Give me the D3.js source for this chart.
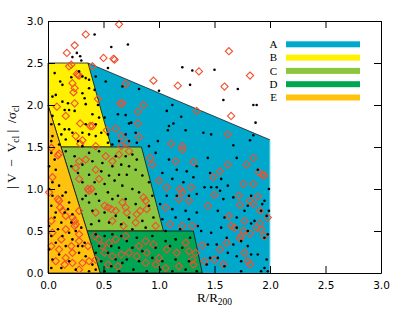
<!DOCTYPE html>
<html>
<head>
<meta charset="utf-8">
<script src="https://cdn.jsdelivr.net/npm/d3@7"></script>
<style>
  body { margin: 0; background: #fff; }
  svg text { font-family: "DejaVu Sans", sans-serif; fill: #000; }
  .serif { font-family: "Liberation Serif", serif; }
</style>
</head>
<body>
<svg id="chart" width="415" height="312"></svg>
<script>
// regions (R/R200, |V-Vcl|/sigma)
const regionNames = ["A", "B", "C", "D", "E"];
const regionColors = ["#00a9cc", "#fff100", "#8cc63f", "#00a651", "#ffc20e"];
const regionShapes = [
  [[0.36, 2.5], [2.0, 1.585], [2.0, 0], [0, 0], [0, 2.5]],
  [[0, 2.5], [0.36, 2.5], [0.57, 1.5], [0.117, 1.5], [0, 2.0]],
  [[0.117, 1.5], [0.842, 1.5], [1.04, 0.5], [0.352, 0.5]],
  [[0.352, 0.5], [1.31, 0.5], [1.39, 0], [0.47, 0]],
  [[0, 2.0], [0.47, 0], [0, 0]]
];

// black dots
const dotPoints = [
  [0.42,2.84],[0.26,2.62],[0.22,2.57],[0.30,2.53],[0.54,2.44],[0.57,2.69],[0.72,2.72],[0.29,2.58],
  [0.52,2.28],[0.67,2.22],
  [0.06,2.38],[0.11,2.28],[0.13,2.24],[0.21,2.33],[0.28,2.40],[0.31,2.34],[0.34,2.32],[0.37,2.30],[0.43,2.34],
  [0.04,2.10],[0.07,2.12],[0.13,2.04],[0.18,2.02],[0.31,2.14],[0.33,2.08],[0.37,2.20],[0.42,2.18],[0.45,2.00],
  [0.15,1.94],[0.19,1.94],[0.24,1.93],[0.34,2.01],[0.40,1.89],[0.46,1.85],[0.51,1.85],[0.04,1.87],
  [0.03,1.77],[0.10,1.77],[0.15,1.71],[0.12,1.65],[0.19,1.71],[0.22,1.67],[0.34,1.77],[0.43,1.77],
  [0.48,1.67],[0.31,1.67],[0.37,1.65],[0.04,1.63],[0.16,1.59],[0.27,1.57],[0.43,1.63],[0.54,1.65],
  [0.54,1.55],[0.10,1.53],[0.31,1.51],[0.58,1.53],[0.03,1.57],[0.63,1.89],[0.64,1.57],
  [1.21,2.45],[1.30,2.41],[1.28,2.24],[1.00,2.17],[0.82,2.19],[1.12,2.00],[1.07,1.93],[1.20,1.86],
  [0.70,1.88],[0.73,1.78],[0.75,1.79],[1.13,1.78],[1.09,1.75],[1.08,1.70],[1.24,1.70],[0.79,1.67],
  [0.70,1.65],[0.73,1.57],[0.99,1.57],[0.91,1.51],[0.80,1.55],
  [1.50,2.42],[1.71,2.19],[1.58,2.06],[1.85,2.00],[1.88,2.00],[1.87,1.79],[1.40,1.67],[1.47,1.65],
  [1.85,1.64],[1.67,1.52],[1.82,1.58],
  [0.03,1.43],[0.06,1.35],[0.01,1.27],[0.07,1.23],[0.04,1.08],[0.01,1.00],[0.10,1.04],[0.16,0.96],
  [0.04,0.92],[0.13,0.92],[0.19,0.84],[0.03,0.80],[0.07,0.72],[0.18,0.76],[0.06,0.66],[0.12,0.60],
  [0.21,0.60],[0.01,0.56],[0.09,0.52],[0.19,0.48],[0.25,0.50],[0.30,0.54],[0.03,0.44],[0.13,0.44],
  [0.22,0.40],[0.07,0.36],[0.16,0.32],[0.27,0.32],[0.33,0.36],[0.01,0.28],[0.10,0.22],[0.28,0.24],
  [0.04,0.16],[0.19,0.14],[0.34,0.20],[0.40,0.10],[0.12,0.06],[0.25,0.04],[0.03,0.06],[0.37,0.02],
  [0.31,0.32],[0.15,0.72],[0.22,0.70],
  [0.16,1.45],[0.24,1.39],[0.37,1.43],[0.46,1.45],[0.61,1.39],[0.21,1.27],[0.31,1.29],[0.40,1.33],
  [0.49,1.31],[0.58,1.27],[0.66,1.29],[0.27,1.19],[0.37,1.17],[0.48,1.21],[0.55,1.16],[0.64,1.17],
  [0.31,1.08],[0.42,1.08],[0.51,1.06],[0.60,1.10],[0.67,1.04],[0.34,0.92],[0.43,0.94],[0.54,0.96],
  [0.63,0.92],[0.37,0.84],[0.46,0.86],[0.58,0.88],[0.40,0.74],[0.51,0.72],[0.61,0.68],[0.46,0.62],
  [0.55,0.60],[0.66,0.58],[0.39,0.58],[0.31,0.88],
  [0.43,0.46],[0.51,0.44],[0.58,0.46],[0.66,0.44],[0.46,0.32],[0.57,0.32],[0.64,0.30],[0.43,0.24],
  [0.54,0.24],[0.61,0.16],[0.48,0.14],[0.57,0.08],[0.67,0.12],[0.43,0.04],[0.51,0.02],[0.64,0.02],
  [0.70,1.39],[0.76,1.41],[0.80,1.35],[0.97,1.43],[1.09,1.35],[1.16,1.23],[1.25,1.21],[1.34,1.27],
  [0.73,1.27],[0.79,1.23],[0.71,1.17],[0.85,1.16],[0.91,1.08],[1.03,1.19],[1.12,1.12],[1.22,1.08],
  [1.31,1.14],[0.76,1.00],[0.82,0.96],[0.94,0.92],[1.07,0.92],[1.16,0.92],[1.27,0.92],[1.34,0.94],
  [0.70,0.88],[0.79,0.82],[0.91,0.80],[1.01,0.82],[1.12,0.76],[1.24,0.74],[1.34,0.72],[0.73,0.66],
  [0.85,0.62],[0.95,0.66],[1.03,0.64],[1.15,0.66],[1.27,0.64],[0.76,0.52],[0.88,0.54],[1.06,0.50],
  [1.19,0.52],[0.71,0.38],[0.80,0.42],[0.94,0.44],[1.06,0.38],[1.15,0.40],[1.28,0.42],[0.76,0.30],
  [0.85,0.26],[0.97,0.30],[1.10,0.32],[1.21,0.30],[0.71,0.16],[0.82,0.14],[0.94,0.18],[1.03,0.14],
  [1.15,0.16],[1.27,0.14],[0.77,0.04],[0.89,0.02],[1.01,0.04],[1.12,0.02],[1.24,0.04],[1.34,0.02],
  [1.44,1.37],[1.70,1.37],[1.89,1.23],[1.46,1.19],[1.56,1.12],[1.47,1.02],[1.52,1.02],[1.62,1.04],
  [1.41,1.02],[1.55,0.98],[1.58,0.88],[1.67,0.90],[1.83,0.92],[1.99,1.00],[1.95,0.86],[1.80,0.80],
  [1.77,0.74],[1.53,0.74],[1.92,0.74],[1.99,0.74],[1.97,0.68],[1.59,0.66],[1.70,0.66],[1.86,0.62],
  [1.56,0.54],[1.70,0.54],[1.80,0.50],[1.83,0.59],[1.47,0.48],[1.61,0.42],[1.74,0.38],[1.98,0.46],
  [1.44,0.34],[1.52,0.34],[1.67,0.34],[1.80,0.32],[1.89,0.22],[1.70,0.20],[1.46,0.18],[1.53,0.18],
  [1.62,0.24],[1.97,0.16],[1.74,0.14],[1.83,0.22],[1.43,0.10],[1.59,0.08],[1.74,0.02],[1.92,0.02],
  [1.98,0.02],[1.35,0.56],[1.38,0.50],[1.95,0.42],[1.95,0.06],[1.93,0.82]
];

// red diamonds
const diamondPoints = [
  [0.64,2.96],[0.34,2.84],[0.24,2.71],[0.17,2.62],[0.50,2.56],[0.60,2.54],[0.59,2.55],[0.40,2.46],
  [0.19,2.46],[0.21,2.48],[0.27,2.36],[0.26,2.37],[0.28,2.35],[0.22,2.26],[0.24,2.20],[0.23,2.15],
  [0.45,2.07],[0.65,2.02],[0.24,2.02],[0.08,1.98],[0.16,1.87],[0.29,1.78],[0.38,1.75],[0.40,1.75],
  [0.61,1.72],[0.53,1.70],[0.25,1.63],[0.66,1.63],[0.31,1.58],[0.29,1.54],[0.43,1.51],[0.66,1.51],
  [0.03,1.49],[0.10,1.42],
  [0.95,2.29],[1.17,2.23],[1.36,2.40],[1.34,1.93],[0.70,2.25],[0.67,2.02],[0.86,2.00],[0.81,1.92],
  [0.81,1.78],[0.82,1.62],[0.71,1.55],[1.11,1.54],[1.21,1.51],
  [1.63,2.64],[1.82,2.35],[1.59,2.22],[1.65,1.87],[1.62,1.65],
  [0.09,1.40],[0.04,1.14],[0.01,0.96],[0.09,0.88],[0.10,0.86],[0.11,0.78],[0.13,0.74],[0.16,0.68],
  [0.22,0.66],[0.24,0.62],[0.25,0.58],[0.24,0.56],[0.16,0.52],[0.28,0.46],[0.28,0.38],[0.03,0.32],
  [0.10,0.28],[0.21,0.32],[0.22,0.24],[0.16,0.18],[0.07,0.14],[0.15,0.10],[0.22,0.12],[0.31,0.12],
  [0.28,0.04],[0.37,0.14],[0.36,0.32],[0.03,0.62],[0.04,0.48],[0.12,0.40],
  [0.28,1.33],[0.34,1.35],[0.25,1.25],[0.43,1.23],[0.58,1.33],[0.52,1.39],[0.64,1.41],[0.28,1.12],
  [0.46,1.12],[0.36,1.00],[0.37,0.98],[0.39,1.00],[0.51,0.80],[0.54,0.78],[0.57,0.76],[0.61,0.74],
  [0.43,0.72],[0.58,0.62],[0.28,0.74],[0.67,0.84],
  [0.42,0.44],[0.46,0.40],[0.49,0.32],[0.55,0.36],[0.61,0.40],[0.51,0.24],[0.58,0.20],[0.66,0.22],
  [0.43,0.16],[0.54,0.10],[0.63,0.08],
  [0.73,1.45],[1.21,1.47],[1.15,1.33],[1.31,1.32],[0.92,1.37],[0.94,1.29],[1.00,1.10],[1.07,1.02],
  [1.19,1.00],[1.21,0.96],[1.29,1.02],[1.18,0.88],[1.06,0.78],[1.27,0.86],[0.86,0.90],[0.88,0.86],
  [0.89,0.76],[0.70,0.78],[0.71,0.72],[0.80,0.70],[0.79,0.60],[0.68,0.56],[0.97,0.56],[1.10,0.58],
  [1.21,0.56],[1.30,0.56],[0.82,0.32],[0.88,0.38],[0.95,0.34],[0.89,0.24],[0.70,0.44],[0.73,0.24],
  [0.80,0.20],[1.00,0.18],[1.07,0.28],[1.16,0.24],[1.27,0.26],[1.33,0.24],[0.88,0.12],[0.97,0.10],
  [1.06,0.06],[1.18,0.08],[1.31,0.10],[1.30,0.16],[1.24,0.36],[0.83,0.74],
  [1.62,1.29],[1.55,1.21],[1.49,1.14],[1.79,1.29],[1.85,1.37],[1.90,1.20],[1.95,1.16],[1.76,1.06],
  [1.85,1.06],[1.72,0.92],[1.50,0.93],[1.89,0.91],[1.82,0.86],[1.85,0.82],[1.91,0.74],[1.44,0.80],
  [1.73,0.81],[1.98,0.66],[1.63,0.68],[1.77,0.62],[1.91,0.59],[1.88,0.54],[1.65,0.56],[1.68,0.54],
  [1.76,0.50],[1.82,0.47],[1.95,0.44],[1.39,0.33],[1.55,0.28],[1.61,0.36],[1.73,0.41],[1.74,0.44],
  [1.77,0.24],[1.80,0.14],[1.82,0.10],[1.50,0.16],[1.41,0.14],[1.58,0.10],[1.92,0.52],[1.93,1.17]
];

const majorTicks = [0, 0.5, 1.0, 1.5, 2.0, 2.5, 3.0];
const minorTicks = d3.range(0, 31).map(i => i / 10);

const svg = d3.select("#chart");
const plotLeft = 48, plotRight = 381, plotTop = 21, plotBottom = 273;

const x = d3.scaleLinear().domain([0, 3]).range([plotLeft, plotRight]);
const y = d3.scaleLinear().domain([0, 3]).range([plotBottom, plotTop]);
const line = d3.line().x(d => x(d[0])).y(d => y(d[1]));

// shaded regions
svg.append("g")
  .selectAll("path")
  .data(regionShapes)
  .join("path")
    .attr("d", d => line(d) + "Z")
    .attr("fill", (d, i) => regionColors[i])
    .attr("stroke", (d, i) => i === 0 ? "none" : "#111")
    .attr("stroke-width", 0.8)
    .attr("stroke-linejoin", "miter");

// edge of region A
svg.append("path")
  .attr("d", line(regionShapes[0].slice(0, 2)))
  .attr("stroke", "#222").attr("stroke-width", 0.8).attr("fill", "none");
svg.append("path")
  .attr("d", line(regionShapes[0].slice(1, 3)))
  .attr("stroke", "#8fdcec").attr("stroke-width", 1).attr("fill", "none");

// points
svg.append("g")
  .selectAll("path")
  .data(diamondPoints)
  .join("path")
    .attr("transform", d => `translate(${x(d[0])},${y(d[1])})`)
    .attr("d", "M0,-3.6L3.6,0L0,3.6L-3.6,0Z")
    .attr("fill", "none")
    .attr("stroke", "#f0502d")
    .attr("stroke-width", 1.1);

svg.append("g")
  .selectAll("circle")
  .data(dotPoints)
  .join("circle")
    .attr("cx", d => x(d[0]))
    .attr("cy", d => y(d[1]))
    .attr("r", 1.3)
    .attr("fill", "#000");

// axes: ticks point inward, minor every 0.1
function drawAxis(axisFn, scale, transform, withLabels, pad) {
  const g = svg.append("g").attr("transform", transform);
  g.call(axisFn(scale).tickValues(minorTicks).tickSize(-3).tickSizeOuter(0).tickFormat(""));
  g.call(axisFn(scale).tickValues(majorTicks).tickSize(-7).tickSizeOuter(0)
    .tickPadding(pad).tickFormat(withLabels ? d3.format(".1f") : ""));
  g.selectAll(".domain, line").attr("stroke", "#000");
  g.selectAll("text").style("font-size", "10.5px").style("font-family", "DejaVu Sans");
}
drawAxis(d3.axisBottom, x, `translate(0,${plotBottom})`, true, 9);
drawAxis(d3.axisTop, x, `translate(0,${plotTop})`, false, 0);
drawAxis(d3.axisLeft, y, `translate(${plotLeft},0)`, true, 4.5);
drawAxis(d3.axisRight, y, `translate(${plotRight},0)`, false, 0);

// legend
const legend = svg.append("g").selectAll("g")
  .data(regionNames)
  .join("g")
    .attr("transform", (d, i) => `translate(0,${44.3 + i * 13.3})`);
legend.append("text")
  .attr("class", "serif")
  .attr("x", 273.5).attr("y", 0).attr("dy", "0.35em")
  .attr("text-anchor", "middle")
  .style("font-size", "11px")
  .text(d => d);
legend.append("rect")
  .attr("x", 286).attr("y", -3).attr("width", 74).attr("height", 6)
  .attr("fill", (d, i) => regionColors[i]);

// axis titles
const xt = svg.append("text").attr("class", "serif")
  .attr("x", (plotLeft + plotRight) / 2).attr("y", 302)
  .attr("text-anchor", "middle").style("font-size", "13px");
xt.append("tspan").text("R/R");
xt.append("tspan").attr("dy", 3).style("font-size", "9.5px").text("200");

const yt = svg.append("text").attr("class", "serif")
  .attr("transform", `translate(16,${(plotTop + plotBottom) / 2}) rotate(-90)`)
  .attr("text-anchor", "middle").style("font-size", "13.5px")
  .attr("xml:space", "preserve");
yt.append("tspan").text("| V  −  V");
yt.append("tspan").attr("dy", 3).style("font-size", "9.5px").text("cl");
yt.append("tspan").attr("dy", -3).text(" |  /σ");
yt.append("tspan").attr("dy", 3).style("font-size", "9.5px").text("cl");
</script>
</body>
</html>
